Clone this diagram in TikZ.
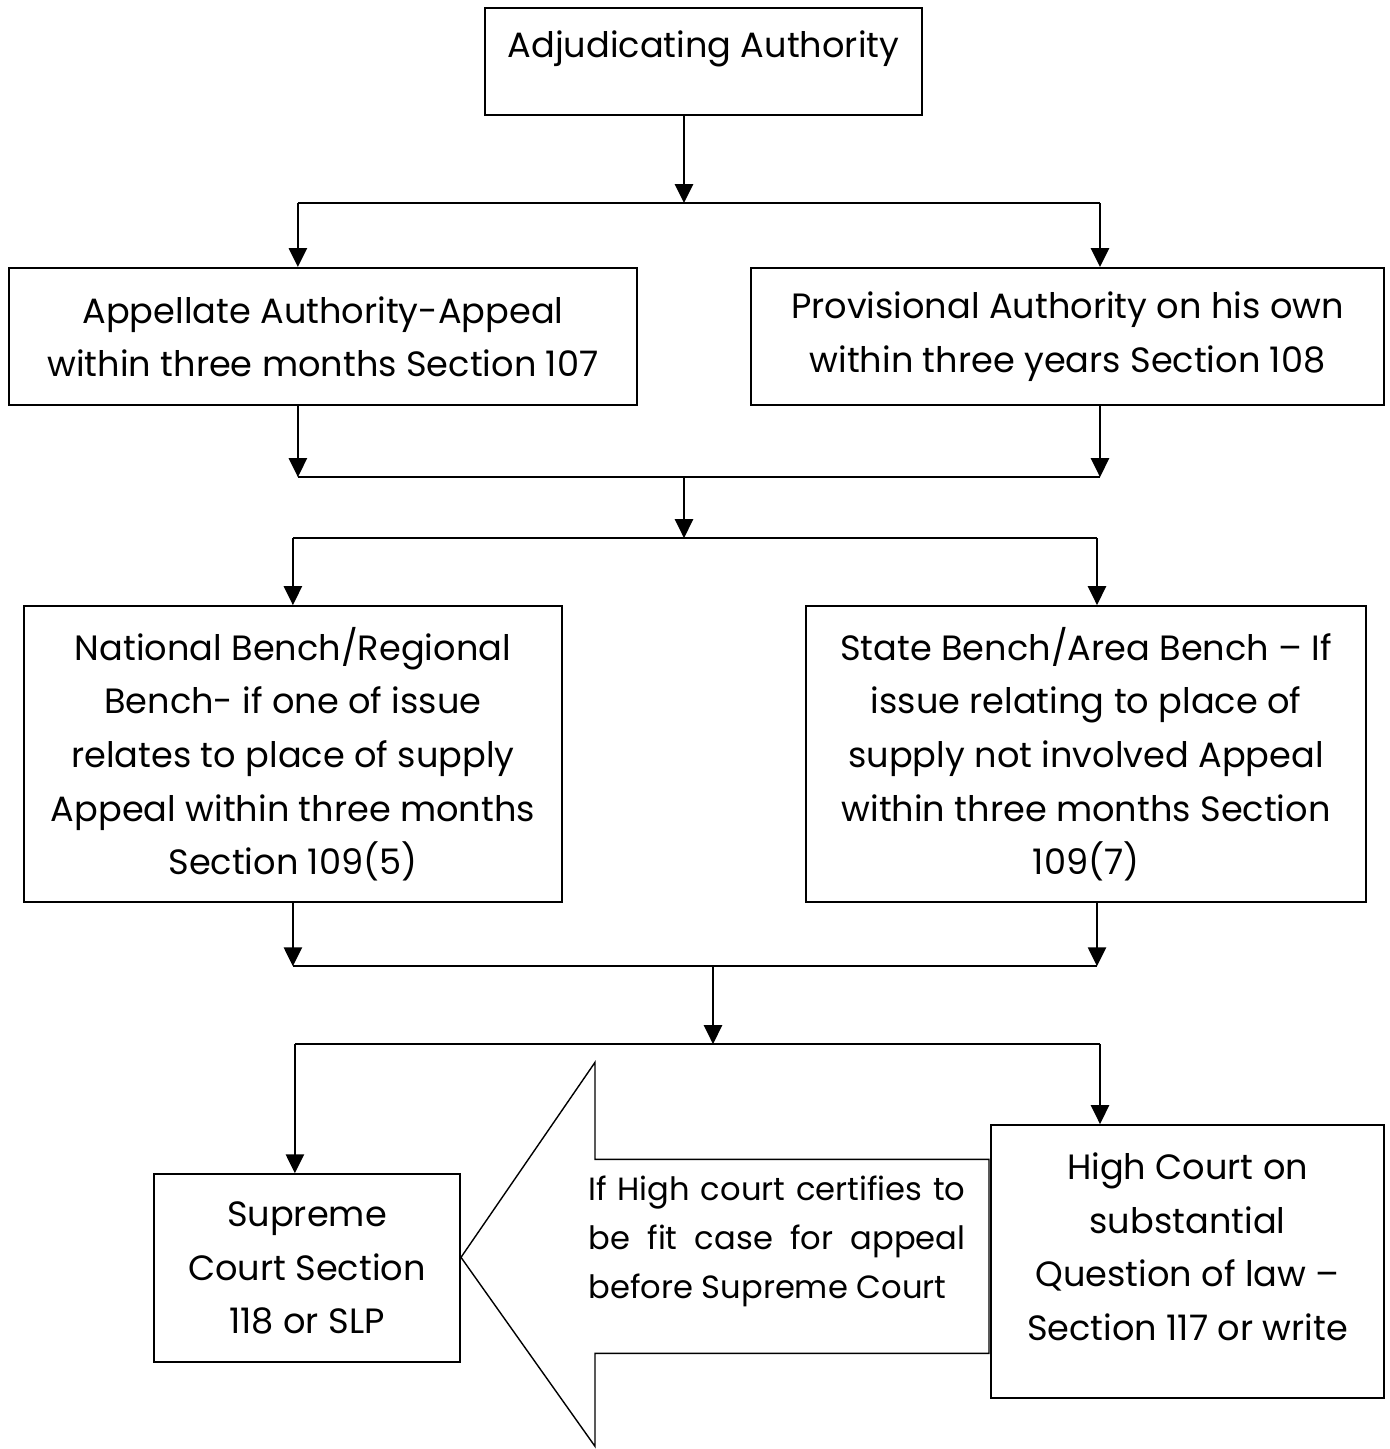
\documentclass[tikz,border=0pt]{standalone}
\usepackage{fontspec}
\setmainfont{Poppins}
\usetikzlibrary{positioning,arrows.meta,calc}

\begin{document}
\begin{tikzpicture}[
    box/.style={rectangle, draw=black, line width=1.2pt, align=center, inner sep=0.1cm},
    flow/.style={-{Triangle[length=0.38cm,width=0.36cm]}, line width=1.5pt},
    link/.style={line width=1.2pt},
    bigarrow/.style={draw=black, line width=0.8pt},
    every node/.style={font=\fontsize{20}{30.5}\selectfont}
]
\useasboundingbox (0,0) rectangle (27.8,-28.98);

% Adjudicating Authority
\node[box, minimum width=8.74cm, minimum height=2.14cm, text depth=0.7cm] (adj) at (14.07,-1.23) {Adjudicating Authority};

% First appeal / revision
\node[box, minimum width=12.56cm, minimum height=2.74cm] (app) [below left=3.02cm and 1.31cm of adj.south] {Appellate Authority-Appeal\\within three months Section 107};
\node[box, minimum width=12.66cm, minimum height=2.74cm] (prov) [below right=3.02cm and 0.93cm of adj.south] {Provisional Authority on his own\\within three years Section 108};

% Tribunal benches
\node[box, minimum width=10.76cm, minimum height=5.92cm] (nat) [below right=3.98cm and 0.3cm of app.south west] {National Bench/Regional\\Bench- if one of issue\\relates to place of supply\\Appeal within three months\\Section 109(5)};
\node[box, minimum width=11.2cm, minimum height=5.92cm] (state) [below left=3.98cm and 0.36cm of prov.south east] {State Bench/Area Bench -- If\\issue relating to place of\\supply not involved Appeal\\within three months Section\\109(7)};

% Courts
\node[box, minimum width=6.12cm, minimum height=3.76cm] (sc) [below right=5.4cm and 2.6cm of nat.south west] {Supreme\\Court Section\\118 or SLP};
\node[box, minimum width=7.86cm, minimum height=5.46cm, text depth=0.6cm] (hc) [below left=14.36cm and 0cm of prov.south east] {High Court on\\substantial\\Question of law --\\Section 117 or write};

% Junctions
\coordinate (split1) at ([xshift=-0.39cm,yshift=-1.74cm]adj.south);
\coordinate (appin) at ([xshift=5.8cm]app.north west);
\coordinate (provin) at ([xshift=7cm]prov.north west);
\coordinate (merge1) at ($(app.south -| split1)+(0,-1.42)$);
\coordinate (split2) at ($(nat.north -| split1)+(0,1.34)$);
\coordinate (natin) at ([xshift=5.4cm]nat.north west);
\coordinate (statein) at ([xshift=5.84cm]state.north west);
\coordinate (merge2) at ($(nat.south -| split1)+(0.58,-1.26)$);
\coordinate (split3) at ($(hc.north -| merge2)+(0,1.6)$);
\coordinate (scin) at ([xshift=2.84cm]sc.north west);
\coordinate (hcin) at ([xshift=2.2cm]hc.north west);
\coordinate (tip) at ($(sc.east)+(0,0.22)$);

% Relationships
\draw[flow] (adj.south -| split1) -- (split1);
\draw[link] (split1 -| appin) -- (split1 -| provin);
\draw[flow] (split1 -| appin) -- (appin);
\draw[flow] (split1 -| provin) -- (provin);

\draw[flow] (app.south -| appin) -- (merge1 -| appin);
\draw[flow] (prov.south -| provin) -- (merge1 -| provin);
\draw[link] (merge1 -| appin) -- (merge1 -| provin);
\draw[flow] (merge1) -- (split2);
\draw[link] (split2 -| natin) -- (split2 -| statein);
\draw[flow] (split2 -| natin) -- (natin);
\draw[flow] (split2 -| statein) -- (statein);

\draw[flow] (nat.south -| natin) -- (merge2 -| natin);
\draw[flow] (state.south -| statein) -- (merge2 -| statein);
\draw[link] (merge2 -| natin) -- (merge2 -| statein);
\draw[flow] (merge2) -- (split3);
\draw[link] (split3 -| scin) -- (split3 -| hcin);
\draw[flow] (split3 -| scin) -- (scin);
\draw[flow] (split3 -| hcin) -- (hcin);

% High Court to Supreme Court
\draw[bigarrow] (tip) -- ++(2.68,3.9) -- ++(0,-1.94) -- ++(7.88,0) -- ++(0,-3.88) -- ++(-7.88,0) -- ++(0,-1.86) -- cycle;
\node[text width=7.54cm, align=justify, font=\fontsize{18.3}{27.9}\selectfont] (cert) at ($(tip)+(6.32,0.32)$) {If High court certifies to\linebreak be fit case for appeal\linebreak before Supreme Court};

\end{tikzpicture}
\end{document}
